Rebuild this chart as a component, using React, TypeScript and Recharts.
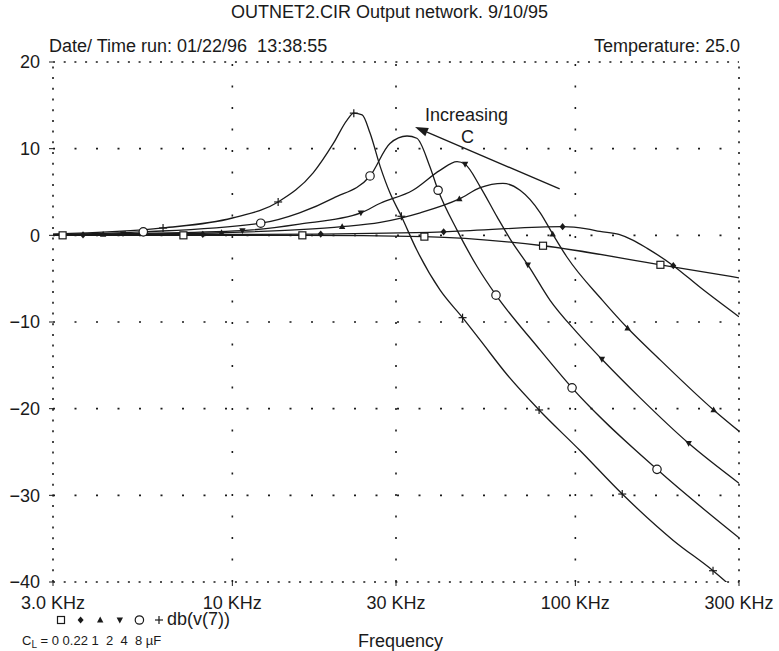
import React from 'react'
import { LineChart, Line, XAxis, YAxis, ReferenceLine } from 'recharts'

type Pt = { f: number; db: number }

const xTicks = [3000, 10000, 30000, 100000, 300000]
const xTickLabels = ['3.0 KHz', '10 KHz', '30 KHz', '100 KHz', '300 KHz']
const yTicks = [20, 10, 0, -10, -20, -30, -40]
const yGrid = [10, 0, -10, -20, -30]
const xGrid = [10000, 30000, 100000]

// gain (dB) vs frequency (Hz), one list per load capacitor
const c0: [number, number][] = [
  [3000, 0.0], [3200, 0.0], [7200, 0.0], [16000, 0.0], [36300, -0.15],
  [80500, -1.2], [177000, -3.4], [300000, -4.9],
]
const c0Marks = [3200, 7200, 16000, 36300, 80500, 177000]

const c022: [number, number][] = [
  [3000, 0.0], [3670, 0.05], [8200, 0.1], [18100, 0.15], [41300, 0.4],
  [91800, 1.0], [108000, 0.75], [118000, 0.45], [134000, 0.1], [147000, -0.55],
  [162000, -1.5], [193000, -3.5], [231000, -6.0], [300000, -9.4],
]
const c022Marks = [3670, 8200, 18100, 41300, 91800, 193000]

const c1: [number, number][] = [
  [3000, 0.0], [4200, 0.1], [9300, 0.3], [15700, 0.65], [20900, 1.0],
  [27000, 1.5], [35300, 2.6], [45900, 4.2], [52800, 5.5], [61500, 6.0],
  [69000, 5.2], [79000, 2.6], [85900, 0.15], [94500, -2.5], [120000, -7.5],
  [142000, -10.7], [177000, -14.4], [253000, -20.15], [300000, -22.6],
]
const c1Marks = [4200, 9300, 20900, 45900, 85900, 142000, 253000]

const c2: [number, number][] = [
  [3000, 0.05], [4800, 0.2], [10700, 0.55], [15700, 1.3], [23700, 2.6],
  [27000, 3.7], [33600, 5.2], [40300, 7.5], [45200, 8.5], [47700, 8.2],
  [52800, 5.6], [59200, 2.1], [65700, -0.9], [72700, -3.4], [84400, -7.5],
  [101000, -11.2], [119500, -14.3], [154000, -18.7], [214000, -24.0], [300000, -28.6],
]
const c2Marks = [4800, 10700, 23700, 47700, 72700, 119500, 214000]

const c4: [number, number][] = [
  [3000, 0.1], [5500, 0.4], [12100, 1.4], [15700, 2.6], [19700, 4.3],
  [25200, 6.85], [28800, 10.6], [32300, 11.46], [34500, 11.2], [37600, 8.0],
  [39800, 5.2], [45200, 0.6], [51700, -3.6], [58700, -6.9], [77300, -12.8],
  [97800, -17.6], [173000, -27.0], [300000, -34.9],
]
const c4Marks = [5500, 12100, 25200, 39800, 58700, 97800, 173000]

const c8: [number, number][] = [
  [3000, 0.15], [6280, 0.85], [10000, 2.0], [13600, 3.85], [17200, 7.2],
  [19700, 10.6], [21600, 13.3], [22600, 14.1], [23900, 13.9], [25200, 11.8],
  [27000, 7.9], [28800, 4.9], [31100, 2.2], [34500, -1.7], [40300, -6.3],
  [46900, -9.5], [52800, -12.1], [63000, -16.0], [78400, -20.15], [103000, -24.8],
  [137000, -29.85], [193000, -35.2], [252000, -38.7], [300000, -41.3],
]
const c8Marks = [6280, 13600, 22600, 31100, 46900, 78400, 137000, 252000]

const FONT = '"Liberation Sans", Arial, Helvetica, sans-serif'
const INK = '#1a1a1a'

type Kind = 'square' | 'diamond' | 'up' | 'down' | 'circle' | 'plus'

const series: { data: Pt[]; marks: number[]; kind: Kind }[] = [
  { data: c0, marks: c0Marks, kind: 'square' },
  { data: c022, marks: c022Marks, kind: 'diamond' },
  { data: c1, marks: c1Marks, kind: 'up' },
  { data: c2, marks: c2Marks, kind: 'down' },
  { data: c4, marks: c4Marks, kind: 'circle' },
  { data: c8, marks: c8Marks, kind: 'plus' },
].map(s => ({ ...s, kind: s.kind as Kind, data: s.data.map(([f, db]) => ({ f, db })) }))

function Marker({ kind, x, y }: { kind: Kind; x: number; y: number }) {
  switch (kind) {
    case 'square':
      return <rect x={x - 3.5} y={y - 3.5} width={7} height={7} fill="#fff" stroke={INK} strokeWidth={1.2} />
    case 'diamond':
      return <polygon points={`${x},${y - 3.6} ${x + 3},${y} ${x},${y + 3.6} ${x - 3},${y}`} fill={INK} />
    case 'up':
      return <polygon points={`${x},${y - 3.4} ${x + 3.2},${y + 2.4} ${x - 3.2},${y + 2.4}`} fill={INK} />
    case 'down':
      return <polygon points={`${x},${y + 3.4} ${x + 3.2},${y - 2.4} ${x - 3.2},${y - 2.4}`} fill={INK} />
    case 'circle':
      return <circle cx={x} cy={y} r={4.2} fill="#fff" stroke={INK} strokeWidth={1.2} />
    default:
      return (
        <g stroke={INK} strokeWidth={1.2}>
          <line x1={x - 4} x2={x + 4} y1={y} y2={y} />
          <line x1={x} x2={x} y1={y - 4} y2={y + 4} />
        </g>
      )
  }
}

const Arrow = (p: any) => {
  const { x1, y1, x2, y2 } = p
  const a = Math.atan2(y2 - y1, x2 - x1)
  const len = 13, half = 4.5
  const bx = x2 - len * Math.cos(a), by = y2 - len * Math.sin(a)
  const px = -Math.sin(a) * half, py = Math.cos(a) * half
  return (
    <g>
      <line x1={x1} y1={y1} x2={bx} y2={by} stroke={INK} strokeWidth={1.3} />
      <polygon points={`${x2},${y2} ${bx + px},${by + py} ${bx - px},${by - py}`} fill={INK} />
    </g>
  )
}

const fmtY = (v: number) => (v < 0 ? `\u2212${Math.abs(v)}` : `${v}`)
const fmtX = (v: number) => xTickLabels[xTicks.indexOf(v)] ?? ''

const txt: React.CSSProperties = { position: 'absolute', fontFamily: FONT, fontSize: 18, lineHeight: 1, color: INK, whiteSpace: 'pre' }

export default function App() {
  return (
    <div style={{ position: 'absolute', left: 0, top: 0, width: 779, height: 651, background: '#fff' }}>
      <LineChart width={779} height={651} margin={{ top: 62, right: 40, bottom: 0, left: 0 }}>
        <XAxis
          dataKey="f" type="number" scale="log" domain={[3000, 300000]} allowDataOverflow
          ticks={xTicks} tickFormatter={fmtX} height={69} axisLine={false}
          tickSize={4} tickMargin={10} tickLine={{ stroke: INK }}
          tick={{ fontSize: 18, fill: INK, fontFamily: FONT }}
        />
        <YAxis
          type="number" domain={[-40, 20]} allowDataOverflow ticks={yTicks} tickFormatter={fmtY}
          width={53} axisLine={false} tickSize={4} tickMargin={9} tickLine={{ stroke: INK }}
          tick={{ fontSize: 18, fill: INK, fontFamily: FONT }}
        />
        {yGrid.map(v => (
          <ReferenceLine key={`gy${v}`} y={v} stroke={INK} strokeWidth={1.6} strokeDasharray="2 19.5" />
        ))}
        {xGrid.map(v => (
          <ReferenceLine key={`gx${v}`} x={v} stroke={INK} strokeWidth={1.6} strokeDasharray="2 19.5" />
        ))}
        <ReferenceLine y={20} stroke={INK} strokeWidth={1.6} strokeDasharray="2 8.7" />
        <ReferenceLine y={-40} stroke={INK} strokeWidth={1.6} strokeDasharray="2 8.7" />
        <ReferenceLine x={3000} stroke={INK} strokeWidth={1.6} strokeDasharray="2 8.7" />
        <ReferenceLine x={300000} stroke={INK} strokeWidth={1.6} strokeDasharray="2 8.7" />
        {series.map(s => (
          <Line
            key={s.kind} data={s.data} dataKey="db" type="monotone" stroke={INK} strokeWidth={1.3}
            isAnimationActive={false} activeDot={false}
            dot={(p: any) => (
              <g key={`${s.kind}-${p.index}`}>
                {s.marks.includes(p.payload.f) && <Marker kind={s.kind} x={p.cx} y={p.cy} />}
              </g>
            )}
          />
        ))}
        <ReferenceLine segment={[{ x: 90000, y: 5.35 }, { x: 34100, y: 12.5 }]} shape={Arrow} />
      </LineChart>

      <div style={{ ...txt, left: 0, width: 779, top: 3, textAlign: 'center' }}>OUTNET2.CIR Output network. 9/10/95</div>
      <div style={{ ...txt, left: 49, top: 37 }}>Date/ Time run: 01/22/96  13:38:55</div>
      <div style={{ ...txt, right: 39, top: 37 }}>Temperature: 25.0</div>
      <div style={{ ...txt, left: 425, top: 106 }}>Increasing</div>
      <div style={{ ...txt, left: 461, top: 128 }}>C</div>
      <div style={{ ...txt, left: 358, top: 632 }}>Frequency</div>

      <svg style={{ position: 'absolute', left: 0, top: 0 }} width={779} height={651} pointerEvents="none">
        {series.map((s, i) => (
          <Marker key={s.kind} kind={s.kind} x={61 + i * 19.6} y={620} />
        ))}
      </svg>
      <div style={{ ...txt, left: 167, top: 610 }}>db(v(7))</div>
      <div style={{ ...txt, left: 22, top: 634, fontSize: 13 }}>
        C<sub style={{ fontSize: 10, verticalAlign: -3 }}>L</sub> = 0 0.22 1  2  4  8 µF
      </div>
    </div>
  )
}
